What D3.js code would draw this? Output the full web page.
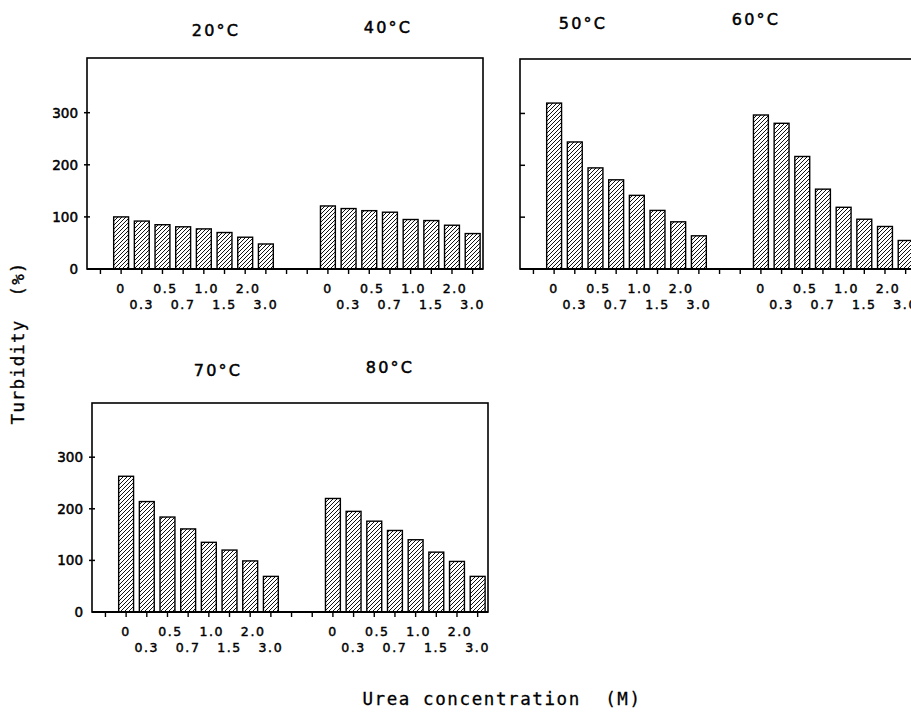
<!DOCTYPE html>
<html>
<head>
<meta charset="utf-8">
<script src="https://cdn.jsdelivr.net/npm/d3@7"></script>
<style>
  html, body { margin: 0; padding: 0; background: #fff; }
  svg { display: block; }
  text { white-space: pre; }
</style>
</head>
<body>
<svg id="chart" width="911" height="714"></svg>
<script>
// ---- data ----
const concentrations = ["0", "0.3", "0.5", "0.7", "1.0", "1.5", "2.0", "3.0"];
const temperatures = ["20°C", "40°C", "50°C", "60°C", "70°C", "80°C"];
const turbidity20 = [100, 92, 85, 81, 77, 70, 61, 48];
const turbidity40 = [121, 116, 112, 109, 95, 93, 84, 68];
const turbidity50 = [320, 245, 195, 172, 142, 113, 91, 64];
const turbidity60 = [297, 281, 217, 154, 119, 96, 82, 55];
const turbidity70 = [263, 214, 184, 161, 135, 120, 99, 69];
const turbidity80 = [220, 195, 176, 158, 140, 116, 98, 69];
const yTicks = [0, 100, 200, 300];
const yLabel = "Turbidity  (%)";
const xLabel = "Urea concentration  (M)";

// ---- layout ----
const svg = d3.select("#chart");
const defs = svg.append("defs");
const pat = defs.append("pattern")
  .attr("id", "hatch").attr("patternUnits", "userSpaceOnUse")
  .attr("width", 4).attr("height", 4);
pat.append("rect").attr("width", 4).attr("height", 4).attr("fill", "#fff");
pat.append("path").attr("d", "M-1,1 l2,-2 M0,4 l4,-4 M3,5 l2,-2")
  .attr("stroke", "#111").attr("stroke-width", 1);

const panelW = 396;
const panels = [
  { left: 87, top: 58, zero: 269, groups: [turbidity20, turbidity40], titles: [temperatures[0], temperatures[1]],
    titlePos: [[216, 36], [388, 33]], yLabels: true },
  { left: 520, top: 59, zero: 269, groups: [turbidity50, turbidity60], titles: [temperatures[2], temperatures[3]],
    titlePos: [[583, 29], [756, 25]], yLabels: false },
  { left: 92, top: 403, zero: 612, groups: [turbidity70, turbidity80], titles: [temperatures[4], temperatures[5]],
    titlePos: [[218, 376], [390, 373]], yLabels: true }
];

const tickFont = "'DejaVu Sans', sans-serif";

panels.forEach(p => {
  const g = svg.append("g").attr("transform", `translate(${p.left},0)`);
  const x = d3.scaleLinear().domain([-1.65, 17.5]).range([0, panelW]);
  const y = d3.scaleLinear().domain([0, 405]).range([p.zero, p.top]);

  // bars
  const barData = [];
  p.groups.forEach((vals, gi) => vals.forEach((v, i) => barData.push({ idx: gi * 10 + i, v })));
  const half = 0.36;
  g.selectAll("rect.bar").data(barData).join("rect")
    .attr("class", "bar")
    .attr("x", d => x(d.idx - half))
    .attr("width", d => x(d.idx + half) - x(d.idx - half))
    .attr("y", d => y(d.v))
    .attr("height", d => y(0) - y(d.v))
    .attr("fill", "url(#hatch)")
    .attr("stroke", "#000").attr("stroke-width", 1.4);

  // frame
  g.append("rect")
    .attr("x", x(-1.65)).attr("y", y(405))
    .attr("width", x(17.5) - x(-1.65)).attr("height", y(0) - y(405))
    .attr("fill", "none").attr("stroke", "#000").attr("stroke-width", 1.6);
  g.append("line").attr("x1", x(-1.65)).attr("x2", x(17.5))
    .attr("y1", y(0)).attr("y2", y(0)).attr("stroke", "#000").attr("stroke-width", 2.2);

  // y ticks
  g.selectAll("line.yt").data(yTicks.slice(1)).join("line")
    .attr("x1", p.yLabels ? -3 : 0).attr("x2", p.yLabels ? 3 : 5)
    .attr("y1", d => y(d)).attr("y2", d => y(d))
    .attr("stroke", "#000").attr("stroke-width", 1.5);
  if (p.yLabels) {
    g.selectAll("text.yl").data(yTicks).join("text")
      .attr("x", -9).attr("y", d => y(d)).attr("dy", "0.36em")
      .attr("text-anchor", "end")
      .attr("font-family", tickFont).attr("font-size", 13.5)
      .attr("stroke", "#000").attr("stroke-width", 0.5)
      .text(d => d);
  }

  // x ticks
  g.selectAll("line.xt").data(d3.range(-1, 18)).join("line")
    .attr("x1", d => x(d)).attr("x2", d => x(d))
    .attr("y1", y(0)).attr("y2", y(0) + 5)
    .attr("stroke", "#000").attr("stroke-width", 1.4);

  // x tick labels (two staggered rows)
  const labData = [];
  [0, 1].forEach(gi => concentrations.forEach((c, i) => labData.push({ idx: gi * 10 + i, c, row: i % 2 })));
  g.selectAll("text.xl").data(labData).join("text")
    .attr("x", d => x(d.idx) + (d.row === 0 && d.c !== "0" ? 3 : 0))
    .attr("y", d => y(0) + (d.row === 0 ? 24 : 40))
    .attr("text-anchor", "middle")
    .attr("font-family", tickFont).attr("font-size", 12.5)
    .attr("stroke", "#000").attr("stroke-width", 0.45)
    .attr("letter-spacing", 1.6)
    .text(d => d.c);

  // titles
  p.titles.forEach((t, i) => {
    svg.append("text")
      .attr("x", p.titlePos[i][0]).attr("y", p.titlePos[i][1])
      .attr("text-anchor", "middle")
      .attr("font-family", tickFont).attr("font-size", 16)
      .attr("stroke", "#000").attr("stroke-width", 0.5)
      .attr("letter-spacing", 2.2)
      .text(t);
  });
});

// axis titles
svg.append("text")
  .attr("transform", "translate(24,343) rotate(-90)")
  .attr("text-anchor", "middle")
  .attr("font-family", "'DejaVu Sans Mono', monospace").attr("font-size", 17.5)
  .attr("stroke", "#000").attr("stroke-width", 0.3)
  .attr("letter-spacing", 1.1)
  .text(yLabel);
svg.append("text")
  .attr("x", 502).attr("y", 705)
  .attr("text-anchor", "middle")
  .attr("font-family", "'DejaVu Sans Mono', monospace").attr("font-size", 17.5)
  .attr("stroke", "#000").attr("stroke-width", 0.3)
  .attr("letter-spacing", 1.6)
  .text(xLabel);
</script>
</body>
</html>
